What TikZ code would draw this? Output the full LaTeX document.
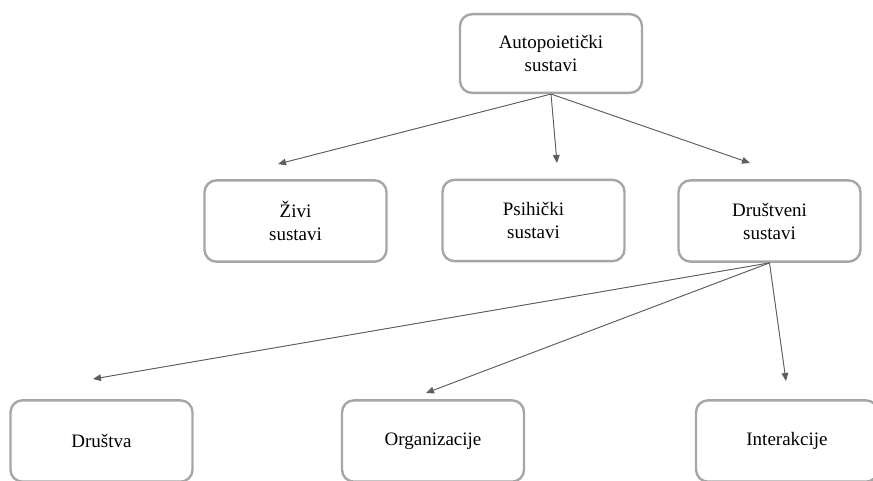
\documentclass[tikz,border=0pt]{standalone}
\usepackage{fontspec}
\setmainfont{Liberation Serif}
\usepackage{xcolor}
\usetikzlibrary{arrows.meta,positioning}
\definecolor{boxgray}{HTML}{A6A6A6}
\definecolor{linegray}{HTML}{5E5E5E}

\begin{document}
\begin{tikzpicture}[
    x=0.75pt, y=-0.75pt,
    every node/.style={font=\fontsize{14.25}{17.25}\selectfont},
    sysbox/.style={
        draw=boxgray, line width=1.8pt,
        rounded corners=9pt,
        minimum width=136.5pt,
        minimum height=61pt,
        align=center,
        inner sep=2pt
    },
    arrow/.style={-{Triangle[length=6pt,width=5pt]}, draw=linegray, fill=linegray, line width=0.7pt}
]
\useasboundingbox (0,0) rectangle (873,480);

%% ── Top node ──────────────────────────────────────────
\node[sysbox, minimum height=59pt] (auto) at (551,53.5) {Autopoietički\\sustavi};

%% ── Second level ──────────────────────────────────────
\node[sysbox] (zivi)      at (295.5,221)   {Živi\\sustavi};
\node[sysbox] (psihicki)  at (533.5,220.5) {Psihički\\sustavi};
\node[sysbox] (drustveni) at (769.5,221)   {Društveni\\sustavi};

%% ── Third level ───────────────────────────────────────
\node[sysbox] (drustva)      at (101.5,441) {Društva};
\node[sysbox] (organizacije) at (433,441)   {Organizacije};
\node[sysbox] (interakcije)  at (787,441)   {Interakcije};

%% ── Arrow ends (arrows stop short of the boxes) ──────
\coordinate (zivi tip)         at (278,164);
\coordinate (psihicki tip)     at (557,163);
\coordinate (drustveni tip)    at (750,163);
\coordinate (drustva tip)      at (93,379);
\coordinate (organizacije tip) at (426,393);
\coordinate (interakcije tip)  at (786,381);

%% ── Arrows ────────────────────────────────────────────
\foreach \t in {zivi,psihicki,drustveni}{
    \draw[arrow] (auto.south) -- (\t\space tip);
}
\foreach \t in {drustva,organizacije,interakcije}{
    \draw[arrow] (drustveni.south) -- (\t\space tip);
}

\end{tikzpicture}
\end{document}
